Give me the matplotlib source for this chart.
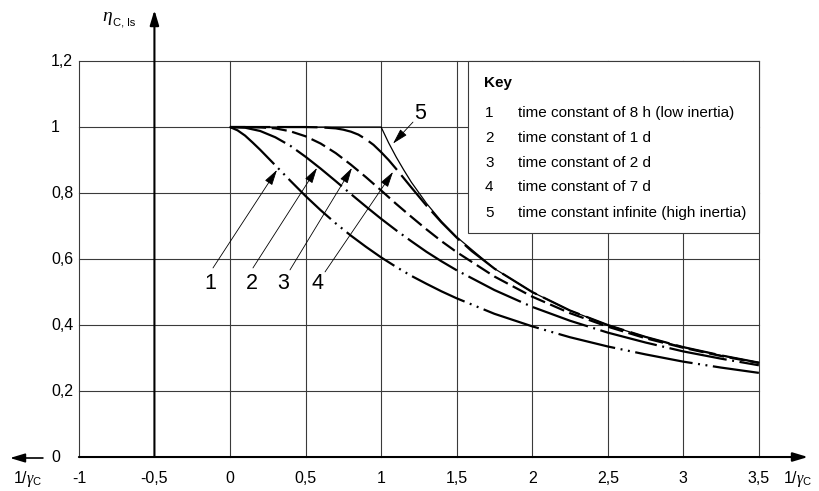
import matplotlib
matplotlib.use("Agg")
import matplotlib.pyplot as plt
from matplotlib.patches import Rectangle

plt.rcParams['font.family'] = ['Liberation Sans', 'DejaVu Sans']
plt.rcParams['lines.scale_dashes'] = False
plt.rcParams['mathtext.fontset'] = 'custom'
plt.rcParams['mathtext.rm'] = 'Liberation Sans'
plt.rcParams['mathtext.it'] = 'Liberation Serif:italic'

# ---- data -------------------------------------------------------------
x_tick_values = [-1, -0.5, 0, 0.5, 1, 1.5, 2, 2.5, 3, 3.5]
x_tick_labels = ["-1", "-0,5", "0", "0,5", "1", "1,5", "2", "2,5", "3", "3,5"]
y_tick_values = [0, 0.2, 0.4, 0.6, 0.8, 1.0, 1.2]
y_tick_labels = ["0", "0,2", "0,4", "0,6", "0,8", "1", "1,2"]

# curve 1: time constant 8 h
x_c1 = [0, 0.05, 0.1, 0.15, 0.2, 0.3, 0.4, 0.5, 0.6, 0.7, 0.8, 0.9, 1.0,
        1.1, 1.2, 1.3, 1.4, 1.5, 1.75, 2.0, 2.25, 2.5, 2.75, 3.0, 3.25, 3.5]
eta_c1 = [1.0, 0.990, 0.974, 0.953, 0.931, 0.884, 0.837, 0.791, 0.748, 0.708,
          0.671, 0.637, 0.605, 0.576, 0.549, 0.525, 0.502, 0.481, 0.434, 0.396,
          0.363, 0.335, 0.311, 0.289, 0.271, 0.255]

# curves 2 and 3: time constants 1 d and 2 d
x_c23 = [0, 0.1, 0.2, 0.3, 0.4, 0.5, 0.6, 0.7, 0.8, 0.9, 1.0, 1.1, 1.2, 1.3,
         1.4, 1.5, 1.75, 2.0, 2.25, 2.5, 2.75, 3.0, 3.25, 3.5]
eta_c2 = [1.0, 0.998, 0.988, 0.969, 0.943, 0.910, 0.874, 0.836, 0.797, 0.759,
          0.722, 0.687, 0.654, 0.622, 0.593, 0.566, 0.506, 0.455, 0.413, 0.377,
          0.347, 0.320, 0.298, 0.278]
eta_c3 = [1.0, 1.0, 0.999, 0.996, 0.987, 0.972, 0.950, 0.921, 0.886, 0.848,
          0.808, 0.767, 0.728, 0.690, 0.654, 0.621, 0.547, 0.486, 0.436, 0.395,
          0.360, 0.331, 0.306, 0.285]

# curve 4: time constant 7 d
x_c4 = [0, 0.5, 0.6, 0.7, 0.75, 0.8, 0.85, 0.9, 0.95, 1.0, 1.05, 1.1, 1.15,
        1.2, 1.3, 1.4, 1.5, 1.6, 1.75, 2.0, 2.25, 2.5, 2.75, 3.0, 3.25, 3.5]
eta_c4 = [1.0, 1.0, 0.999, 0.996, 0.992, 0.986, 0.977, 0.963, 0.946, 0.924,
          0.900, 0.873, 0.845, 0.817, 0.762, 0.711, 0.665, 0.624, 0.571, 0.500,
          0.444, 0.400, 0.364, 0.333, 0.308, 0.286]

# curve 5: infinite time constant
x_c5 = [0, 1.0, 1.05, 1.1, 1.15, 1.2, 1.3, 1.4, 1.5, 1.75, 2.0, 2.25, 2.5,
        2.75, 3.0, 3.25, 3.5]
eta_c5 = [1.0, 1.0, 0.952, 0.909, 0.870, 0.833, 0.769, 0.714, 0.667, 0.571,
          0.500, 0.444, 0.400, 0.364, 0.333, 0.308, 0.286]

key_numbers = ["1", "2", "3", "4", "5"]
key_texts = ["time constant of 8 h (low inertia)",
             "time constant of 1 d",
             "time constant of 2 d",
             "time constant of 7 d",
             "time constant infinite (high inertia)"]

# ---- figure -----------------------------------------------------------
fig = plt.figure(figsize=(8.19, 4.91), dpi=100)
ax = fig.add_axes([0, 0, 1, 1])
ax.set_xlim(-1.522, 3.898)
ax.set_ylim(-0.103, 1.385)
ax.axis('off')

grid_kw = dict(color='#3a3a3a', lw=0.8, zorder=1)
for xv in x_tick_values:
    if xv != -0.5:
        ax.plot([xv, xv], [0, 1.2], **grid_kw)
for yv in y_tick_values[1:]:
    ax.plot([-1, 3.5], [yv, yv], **grid_kw)

# axes with arrows
axis_arrow = dict(arrowstyle='-|>,head_length=1.0,head_width=0.3', lw=1.5,
                  color='black', shrinkA=0, shrinkB=0, mutation_scale=9)
ax.annotate('', xy=(3.825, 0), xytext=(-1, 0), arrowprops=axis_arrow, zorder=2)
ax.annotate('', xy=(-0.5, 1.3545), xytext=(-0.5, 0), arrowprops=axis_arrow, zorder=2)
left_arrow = dict(arrowstyle='-|>,head_length=1.0,head_width=0.3', lw=1.2,
                  color='black', shrinkA=0, shrinkB=0, mutation_scale=9)
ax.annotate('', xy=(-1.456, -0.003), xytext=(-1.238, -0.003),
            arrowprops=left_arrow, zorder=2)

# tick labels
tick_fs = 11.5
for xv, lab in zip(x_tick_values, x_tick_labels):
    ax.text(xv, -0.064, lab, ha='center', va='center', fontsize=tick_fs)
for yv, lab in zip(y_tick_values, y_tick_labels):
    ax.text(-1.185, yv, lab, ha='left', va='center', fontsize=tick_fs)

ax.text(-1.337, -0.066, r'1/$\mathit{\gamma}_{\mathrm{C}}$', ha='center',
        va='center', fontsize=tick_fs)
ax.text(3.755, -0.066, r'1/$\mathit{\gamma}_{\mathrm{C}}$', ha='center',
        va='center', fontsize=tick_fs)
ax.text(-0.845, 1.336, 'η', family='Liberation Serif', style='italic',
        fontsize=14, ha='left', va='center')
ax.text(-0.772, 1.318, 'C, ls', fontsize=8, ha='left', va='center')

# curves
lw = 1.6
ax.plot(x_c1, eta_c1, color='black', lw=lw, dashes=(42, 4, 1.4, 4, 1.4, 4), zorder=2)
ax.plot(x_c23, eta_c2, color='black', lw=lw, dashes=(42, 4, 1.4, 4), zorder=2)
ax.plot(x_c23, eta_c3, color='black', lw=lw, dashes=(11, 4), zorder=2)
ax.plot(x_c4, eta_c4, color='black', lw=lw, dashes=(29, 5), zorder=2)
ax.plot(x_c5, eta_c5, color='black', lw=0.9, zorder=2)

# callouts
call_arrow = dict(arrowstyle='-|>,head_length=0.8,head_width=0.22', lw=0.6,
                  color='black', shrinkA=0, shrinkB=0, mutation_scale=12)
callouts = [("1", (-0.132, 0.527), (-0.1125, 0.573), (0.311, 0.870)),
            ("2", (0.146, 0.527), (0.152, 0.573), (0.576, 0.876)),
            ("3", (0.351, 0.527), (0.397, 0.567), (0.807, 0.876)),
            ("4", (0.576, 0.527), (0.629, 0.561), (1.079, 0.864)),
            ("5", (1.257, 1.042), (1.211, 1.015), (1.079, 0.950))]
for lab, pos, tail, tip in callouts:
    ax.text(pos[0], pos[1], lab, ha='center', va='center', fontsize=15.5)
    ax.annotate('', xy=tip, xytext=tail, arrowprops=call_arrow, zorder=3)

# key box
ax.add_patch(Rectangle((1.575, 0.679), 3.5 - 1.575, 1.2 - 0.679,
                       facecolor='white', edgecolor='#3a3a3a', lw=0.8, zorder=3))
ax.text(1.681, 1.133, 'Key', fontweight='bold', fontsize=11, ha='left',
        va='center', zorder=4)
row_y = [1.042, 0.967, 0.891, 0.818, 0.739]
for yv, num, txt in zip(row_y, key_numbers, key_texts):
    ax.text(1.688, yv, num, fontsize=11, ha='left', va='center', zorder=4)
    ax.text(1.906, yv, txt, fontsize=11, ha='left', va='center', zorder=4)

fig.savefig('out.png', dpi=100)
